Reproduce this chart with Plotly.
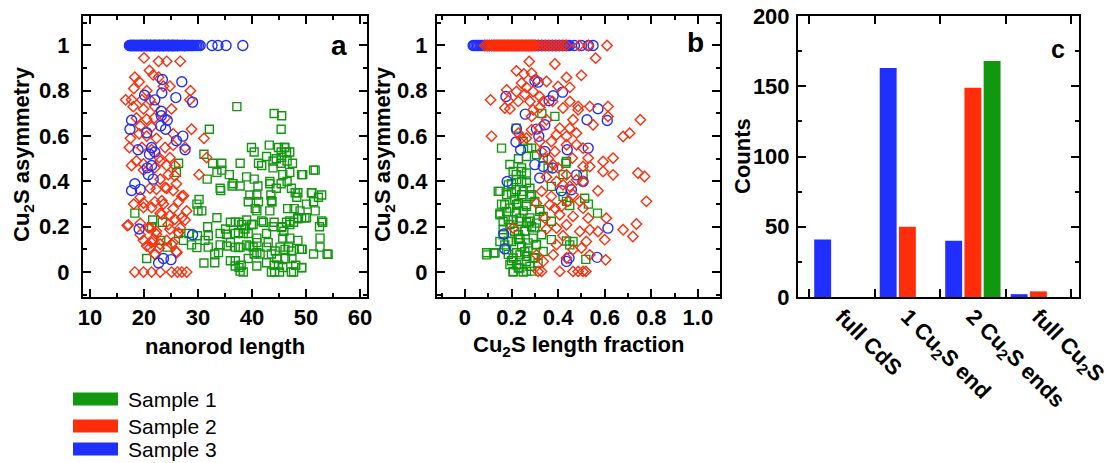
import plotly.graph_objects as go

W, H = 1109, 463

# ---------------- DATA ----------------
# Panel a: nanorod length vs Cu2S asymmetry
A_S1 = [(37.2,0.73),(44.1,0.70),(45.5,0.69),(45.4,0.63),(32.1,0.63),(39.9,0.55),(40.4,0.53),(43.2,0.56),(44.9,0.55),(46.0,0.55),
        (45.4,0.53),(46.4,0.53),(31.1,0.52),(26.0,0.44),(32.7,0.48),(34.4,0.45),(35.8,0.43),(37.8,0.48),(41.2,0.48),(42.7,0.51),
        (44.5,0.50),(43.9,0.46),(45.4,0.48),(46.5,0.49),(47.5,0.48),(45.7,0.43),(47.0,0.44),(49.4,0.43),(51.4,0.45),(31.7,0.41),
        (34.2,0.36),(36.3,0.38),(37.8,0.38),(39.0,0.42),(40.4,0.41),(39.6,0.34),(40.9,0.34),(39.3,0.31),(41.2,0.31),(40.9,0.27),
        (43.3,0.39),(44.5,0.37),(45.4,0.39),(46.5,0.40),(47.3,0.37),(48.5,0.35),(48.3,0.33),(51.1,0.35),(52.3,0.33),(52.9,0.34),
        (51.4,0.31),(50.1,0.30),(51.7,0.27),(43.5,0.34),(43.7,0.31),(43.3,0.27),(46.6,0.28),(47.8,0.28),(47.7,0.22),(47.0,0.21),
        (46.4,0.22),(48.5,0.24),(49.2,0.24),(50.1,0.24),(53.1,0.22),(52.5,0.20),(44.1,0.22),(45.5,0.20),(45.9,0.18),(30.2,0.32),
        (30.7,0.27),(33.5,0.24),(36.0,0.22),(36.9,0.22),(37.6,0.22),(39.0,0.23),(40.2,0.21),(42.1,0.22),(36.9,0.17),(38.4,0.17),
        (39.3,0.17),(40.9,0.15),(42.7,0.17),(35.1,0.19),(34.1,0.17),(31.8,0.20),(28.3,0.17),(29.9,0.16),(31.3,0.14),(31.9,0.11),
        (33.1,0.08),(31.1,0.04),(34.1,0.12),(36.0,0.13),(36.9,0.11),(37.8,0.11),(39.0,0.12),(40.2,0.11),(40.9,0.13),(36.0,0.05),
        (36.9,0.05),(37.6,0.02),(38.4,0.00),(38.0,0.03),(39.3,0.06),(40.4,0.08),(41.5,0.08),(42.7,0.11),(43.6,0.08),(44.1,0.03),
        (44.2,0.00),(45.1,0.00),(44.9,0.03),(44.6,0.06),(45.7,0.02),(46.2,0.06),(47.4,0.06),(47.7,0.00),(48.1,0.03),(48.8,0.10),
        (49.3,0.10),(49.2,0.02),(45.2,0.11),(46.8,0.11),(45.7,0.15),(47.0,0.15),(48.5,0.14),(51.4,0.08),(52.6,0.11),(53.9,0.08),
        (52.6,0.15),(21.4,0.20),(20.5,0.06),(23.4,0.22),(21.6,0.23),(18.3,0.26),(23.1,0.14),(24.3,0.11),(26.4,0.17),(27.3,0.14),
        (26.4,0.48),(46.1,0.55),(45.5,0.506),(47.0,0.53),(41.8,0.47),(43.9,0.49),(33.5,0.44),(34.4,0.48),(51.7,0.45),(49.2,0.43),
        (34.1,0.37),(36.5,0.39),(41.1,0.38),(43.3,0.40),(48.0,0.35),(51.0,0.35),(40.6,0.28),(43.6,0.315),(48.9,0.27),(52.9,0.226),
        (29.8,0.30),(30.0,0.27),(38.1,0.21),(39.9,0.21),(41.8,0.226),(43.9,0.20),(45.5,0.196),(47.0,0.226),(48.5,0.235),(49.8,0.24),
        (35.3,0.167),(37.5,0.174),(38.7,0.19),(31.9,0.16),(28.8,0.12),(29.8,0.108),(33.8,0.086),(35.3,0.115),(37.5,0.108),(39.6,0.115),
        (40.9,0.086),(43.0,0.13),(44.3,0.093),(46.1,0.10),(47.3,0.093),(49.2,0.10),(54.1,0.078),(33.1,0.041),(36.9,0.027),(37.8,0.004),
        (40.9,0.027),(42.7,0.041),(43.6,0.0),(47.3,0.0),(49.2,0.019)]

A_S2 = [(20.0,0.945),(21.0,0.89),(22.7,0.93),(24.2,0.93),(26.7,0.93),(21.7,0.87),(18.3,0.86),(19.1,0.84),(18.1,0.81),(16.6,0.76),
        (17.7,0.76),(19.6,0.76),(20.5,0.80),(22.7,0.86),(23.6,0.82),(24.8,0.82),(28.6,0.80),(28.5,0.76),(21.1,0.76),(18.0,0.73),
        (19.9,0.72),(22.0,0.73),(25.1,0.72),(18.6,0.68),(20.5,0.675),(21.9,0.68),(23.9,0.68),(19.3,0.645),(21.4,0.64),(17.5,0.59),
        (19.1,0.61),(20.5,0.60),(22.3,0.59),(25.4,0.61),(28.8,0.63),(31.1,0.59),(17.3,0.55),(19.6,0.55),(21.4,0.54),(23.9,0.55),
        (25.4,0.56),(27.6,0.55),(22.8,0.505),(24.8,0.505),(31.6,0.505),(30.2,0.43),(18.6,0.49),(19.9,0.45),(22.0,0.46),(24.2,0.47),
        (25.7,0.47),(24.5,0.43),(23.0,0.41),(26.0,0.39),(21.1,0.37),(22.3,0.365),(24.2,0.37),(25.4,0.36),(27.0,0.335),(19.3,0.33),
        (18.1,0.30),(19.9,0.305),(22.0,0.31),(23.6,0.30),(25.4,0.28),(26.4,0.31),(23.0,0.26),(24.8,0.25),(27.0,0.24),(27.9,0.27),
        (16.9,0.205),(19.3,0.215),(21.1,0.195),(22.3,0.18),(24.5,0.21),(26.7,0.195),(27.6,0.23),(19.9,0.14),(21.4,0.13),(22.8,0.105),
        (24.2,0.14),(25.4,0.13),(26.0,0.09),(20.5,0.115),(22.0,0.08),(19.3,0.165),(17.7,0.47),(19.9,0.477),(23.0,0.49),(25.7,0.425),
        (23.9,0.373),(27.3,0.337),(23.3,0.315),(19.9,0.285),(21.4,0.285),(23.3,0.255),(25.7,0.233),(17.1,0.208),(20.8,0.196),(22.3,0.167),
        (24.8,0.189),(26.4,0.174),(21.7,0.145),(23.0,0.123),(25.1,0.123),(26.1,0.086),(21.1,0.108),(22.0,0.078),
        (18.3,0.0),(19.9,0.0),(21.4,0.0),(23.0,0.0),(25.1,0.0),(26.2,0.0),(27.0,0.0),(27.9,0.0)]
A_S2_ONE_END = [19.5, 20.5, 21.2, 22.0, 22.8, 23.6, 24.5, 25.3, 26.2, 27.5]

A_S3 = [(23.4,0.85),(27.0,0.84),(20.1,0.78),(23.3,0.79),(22.0,0.76),(25.9,0.77),(29.0,0.75),(23.2,0.71),(23.2,0.69),(17.7,0.67),
        (24.3,0.67),(17.4,0.63),(23.1,0.645),(24.0,0.63),(20.5,0.615),(27.2,0.60),(26.0,0.58),(18.9,0.54),(21.4,0.55),(22.0,0.53),
        (27.6,0.54),(21.4,0.47),(20.8,0.43),(21.7,0.41),(18.3,0.39),(17.7,0.36),(19.3,0.365),(19.1,0.19),(29.0,0.165),(23.6,0.06),
        (25.0,0.055),(22.7,0.04),(20.6,0.46),(21.0,0.52)]
A_S3_ONE_END = [17.3,17.4,17.5,17.6,17.7,17.8,17.9,18.0,18.1,18.2,18.3,18.4,18.5,18.6,18.7,18.8,18.9,19.0,19.1,19.2,
                19.3,19.4,19.5,19.6,19.7,19.8,19.9,20.0,20.1,20.2,20.3,20.4,20.5,20.6,20.7,20.8,20.9,21.0,21.1,21.2,
                21.3,21.4,21.5,21.6,21.7,21.8,21.9,22.0,22.1,22.2,22.3,22.4,22.5,22.6,22.7,22.8,22.9,23.0,23.1,23.2,
                23.3,23.4,23.5,23.6,23.7,23.8,23.9,24.0,24.1,24.2,24.3,24.4,24.5,24.6,24.7,24.8,24.9,25.0,25.1,25.2,
                25.3,25.4,25.5,25.6,25.7,25.8,25.9,26.0,26.2,26.3,26.5,26.6,26.8,26.9,27.1,27.2,27.4,27.5,27.7,27.9,
                28.0,28.2,28.4,28.6,28.8,29.0,29.2,29.5,29.8,30.1,30.4,32.6,33.7,35.2,38.3]

# Panel b: Cu2S length fraction vs Cu2S asymmetry
B_S1 = [(0.33,0.70),(0.22,0.635),(0.157,0.547),(0.27,0.547),(0.23,0.50),(0.243,0.46),(0.264,0.437),(0.22,0.43),(0.186,0.385),(0.143,0.356),
        (0.179,0.341),(0.22,0.363),(0.25,0.356),(0.279,0.334),(0.15,0.26),(0.193,0.282),(0.229,0.304),(0.264,0.297),(0.30,0.312),(0.321,0.275),
        (0.164,0.224),(0.207,0.231),(0.236,0.238),(0.279,0.224),(0.307,0.216),(0.336,0.246),(0.371,0.224),(0.421,0.334),(0.436,0.312),(0.45,0.294),
        (0.371,0.378),(0.357,0.459),(0.436,0.488),(0.421,0.43),(0.25,0.576),(0.286,0.547),(0.307,0.518),(0.336,0.503),(0.264,0.51),(0.093,0.076),
        (0.124,0.084),(0.179,0.099),(0.20,0.135),(0.164,0.165),(0.229,0.165),(0.257,0.18),(0.293,0.15),(0.329,0.165),(0.371,0.143),(0.464,0.135),
        (0.207,0.062),(0.236,0.076),(0.264,0.047),(0.293,0.062),(0.207,0.003),(0.236,0.018),(0.264,0.003),(0.221,0.032),(0.243,0.113),(0.271,0.106),
        (0.307,0.12),(0.336,0.091),(0.15,0.135),(0.569,0.26),(0.514,0.326),(0.53,0.30),(0.519,0.056),(0.45,0.12),(0.436,0.137),(0.433,0.48),
        (0.507,0.43),(0.386,0.687),(0.193,0.475),(0.243,0.444),(0.222,0.408),(0.264,0.394),(0.15,0.356),(0.20,0.349),(0.243,0.341),(0.286,0.341),
        (0.171,0.297),(0.222,0.297),(0.264,0.29),(0.321,0.268),(0.15,0.253),(0.186,0.231),(0.236,0.224),(0.279,0.239),(0.164,0.187),(0.214,0.18),
        (0.257,0.18),(0.30,0.195),(0.186,0.136),(0.229,0.144),(0.271,0.129),(0.307,0.122),(0.093,0.085),(0.129,0.085),(0.186,0.078),(0.222,0.085),
        (0.264,0.07),(0.30,0.063),(0.193,0.033),(0.229,0.018),(0.279,0.026),(0.207,0.0),(0.25,0.0),(0.286,0.004),(0.179,0.268),(0.207,0.444),
        (0.20,0.39),(0.214,0.32),(0.25,0.27),(0.236,0.15),(0.20,0.05),(0.257,0.09),(0.171,0.12),(0.314,0.04),(0.286,0.20),(0.221,0.26),
        (0.243,0.40),(0.193,0.21),(0.279,0.37),(0.157,0.30),(0.264,0.22)]

B_S2 = [(0.561,0.944),(0.276,0.929),(0.386,0.918),(0.221,0.888),(0.253,0.874),(0.286,0.878),(0.436,0.859),(0.50,0.868),(0.307,0.849),(0.35,0.841),
        (0.243,0.834),(0.264,0.815),(0.40,0.819),(0.45,0.815),(0.179,0.804),(0.221,0.797),(0.257,0.785),(0.293,0.797),(0.321,0.775),(0.11,0.76),
        (0.186,0.756),(0.229,0.753),(0.279,0.753),(0.336,0.753),(0.376,0.753),(0.45,0.753),(0.171,0.724),(0.193,0.72),(0.293,0.716),(0.321,0.726),
        (0.421,0.724),(0.486,0.731),(0.486,0.716),(0.536,0.731),(0.614,0.731),(0.286,0.687),(0.35,0.672),(0.464,0.672),(0.55,0.65),(0.614,0.687),
        (0.753,0.672),(0.679,0.598),(0.707,0.613),(0.229,0.613),(0.286,0.628),(0.321,0.635),(0.243,0.591),(0.264,0.591),(0.114,0.599),(0.393,0.606),
        (0.436,0.599),(0.479,0.613),(0.407,0.635),(0.45,0.635),(0.321,0.576),(0.371,0.576),(0.436,0.562),(0.479,0.562),(0.507,0.547),(0.329,0.532),
        (0.386,0.532),(0.461,0.503),(0.529,0.503),(0.593,0.488),(0.636,0.503),(0.507,0.466),(0.536,0.466),(0.593,0.444),(0.636,0.429),(0.743,0.437),
        (0.771,0.422),(0.379,0.474),(0.436,0.429),(0.393,0.40),(0.421,0.385),(0.45,0.378),(0.479,0.407),(0.507,0.40),(0.571,0.359),(0.464,0.341),
        (0.443,0.312),(0.493,0.312),(0.779,0.312),(0.329,0.356),(0.307,0.304),(0.364,0.297),(0.386,0.282),(0.407,0.253),(0.464,0.246),(0.507,0.282),
        (0.529,0.238),(0.607,0.238),(0.343,0.238),(0.393,0.194),(0.436,0.209),(0.493,0.179),(0.536,0.187),(0.571,0.179),(0.679,0.187),(0.736,0.212),
        (0.721,0.157),(0.60,0.143),(0.521,0.135),(0.50,0.106),(0.464,0.099),(0.393,0.121),(0.379,0.076),(0.436,0.062),(0.536,0.076),(0.604,0.054),
        (0.207,0.194),(0.307,0.076),(0.336,0.047),(0.371,0.334),(0.357,0.50),(0.40,0.46),(0.35,0.42),(0.414,0.29),(0.35,0.19),(0.421,0.16),
        (0.314,0.003),(0.329,0.003),(0.407,0.003),(0.464,0.003),(0.486,0.003),(0.507,0.003),(0.519,0.003)]
B_S2_ONE_END = [0.085,0.095,0.105,0.115,0.122,0.128,0.134,0.140,0.146,0.152,0.158,0.164,0.170,0.176,0.182,0.188,0.194,0.200,
                0.206,0.212,0.218,0.224,0.230,0.236,0.242,0.248,0.254,0.260,0.266,0.272,0.278,0.284,0.290,0.296,0.302,0.315,
                0.330,0.345,0.360,0.375,0.390,0.405,0.420,0.435,0.490,0.530,0.610]

B_S3 = [(0.30,0.844),(0.314,0.838),(0.176,0.775),(0.419,0.794),(0.379,0.778),(0.361,0.756),(0.259,0.697),(0.571,0.721),(0.611,0.669),(0.524,0.672),
        (0.221,0.632),(0.307,0.631),(0.343,0.65),(0.219,0.574),(0.317,0.599),(0.239,0.54),(0.343,0.532),(0.439,0.54),(0.529,0.547),(0.30,0.474),
        (0.336,0.466),(0.376,0.459),(0.479,0.429),(0.507,0.40),(0.414,0.359),(0.457,0.363),(0.321,0.415),(0.181,0.40),(0.614,0.194),(0.167,0.168),
        (0.171,0.103),(0.436,0.047),(0.447,0.062),(0.567,0.065)]
B_S3_ONE_END = [0.035,0.041,0.047,0.053,0.059,0.065,0.071,0.077,0.083,0.089,0.095,0.101,0.107,0.113,0.119,0.125,0.131,0.137,
                0.143,0.149,0.155,0.161,0.167,0.173,0.179,0.185,0.191,0.197,0.203,0.209,0.215,0.221,0.227,0.233,0.239,0.245,
                0.251,0.257,0.263,0.269,0.275,0.281,0.287,0.293,0.299,0.305,0.311,0.317,0.323,0.329,0.335,0.341,0.347,0.353,
                0.359,0.365,0.371,0.377,0.383,0.389,0.395,0.401,0.407,0.413,0.419,0.425,0.431,0.437,0.443,0.449,
                0.470,0.500,0.530,0.550]

# Panel c: counts per category
CATEGORIES = ["full CdS", "1 Cu<sub>2</sub>S end", "2 Cu<sub>2</sub>S ends", "full Cu<sub>2</sub>S"]
COUNTS_S3 = [41, 163, 40, 2]
COUNTS_S2 = [0, 50, 149, 4]
COUNTS_S1 = [0, 0, 168, 0]

SAMPLE_NAMES = ["Sample 1", "Sample 2", "Sample 3"]

# ---------------- STYLE ----------------
GREEN = "#12980f"
RED = "#ff2d0a"
BLUE = "#1f2fff"
FONT = "Liberation Sans, Arial, sans-serif"


def px_x(p):
    return p / W


def px_y(p):
    return 1 - p / H


def unzip(pairs):
    return [p[0] for p in pairs], [p[1] for p in pairs]


fig = go.Figure()


def scatter(pairs, color, symbol, size, xa, ya, name):
    xs, ys = unzip(pairs)
    fig.add_trace(go.Scatter(
        x=xs, y=ys, mode="markers", name=name, showlegend=False,
        marker=dict(symbol=symbol, size=size, color=color, line=dict(width=1.4)),
        xaxis=xa, yaxis=ya))


# Panel a
scatter(A_S1, GREEN, "square-open", 8, "x", "y", "Sample 1")
scatter(A_S2 + [(v, 1.0) for v in A_S2_ONE_END], RED, "diamond-open", 8, "x", "y", "Sample 2")
scatter(A_S3 + [(v, 1.0) for v in A_S3_ONE_END], BLUE, "circle-open", 10, "x", "y", "Sample 3")

# Panel b
scatter(B_S1, GREEN, "square-open", 8, "x2", "y2", "Sample 1")
scatter(B_S3 + [(v, 1.0) for v in B_S3_ONE_END], BLUE, "circle-open", 10, "x2", "y2", "Sample 3")
scatter(B_S2 + [(v, 1.0) for v in B_S2_ONE_END], RED, "diamond-open", 8, "x2", "y2", "Sample 2")

# Panel c bars
for vals, color, name in [(COUNTS_S3, BLUE, "Sample 3"), (COUNTS_S2, RED, "Sample 2"), (COUNTS_S1, GREEN, "Sample 1")]:
    fig.add_trace(go.Bar(x=CATEGORIES, y=vals, marker=dict(color=color, line=dict(width=0)),
                         name=name, showlegend=False, xaxis="x3", yaxis="y3"))

tickfont = dict(family=FONT, size=22, color="black", weight="bold")


def axis(domain, rng, anchor, **kw):
    d = dict(domain=domain, range=rng, anchor=anchor, showline=True, linecolor="black", linewidth=2,
             mirror="allticks", ticks="inside", ticklen=8, tickwidth=2, tickcolor="black",
             showgrid=False, zeroline=False, tickfont=tickfont, automargin=False)
    d.update(kw)
    return d


minor = lambda dt: dict(ticks="inside", ticklen=4, tickwidth=1.5, tickcolor="black", dtick=dt, showgrid=False)

ydom = [px_y(297), px_y(16)]
fig.update_layout(
    width=W, height=H, margin=dict(l=0, r=0, t=0, b=0),
    paper_bgcolor="white", plot_bgcolor="white", template="none", showlegend=False,
    barmode="group", bargap=0.12, bargroupgap=0.12,
    xaxis=axis([px_x(83), px_x(367)], [8.7, 61.3], "y", tickvals=[10, 20, 30, 40, 50, 60],
               minor=minor(5), ticklabelstandoff=0),
    yaxis=axis(ydom, [-0.11, 1.13], "x", tickvals=[0, 0.2, 0.4, 0.6, 0.8, 1],
               ticktext=["0", "0.2", "0.4", "0.6", "0.8", "1"], minor=minor(0.1), ticklabelstandoff=7),
    xaxis2=axis([px_x(437), px_x(720)], [-0.12, 1.095], "y2", tickvals=[0, 0.2, 0.4, 0.6, 0.8, 1.0],
                ticktext=["0", "0.2", "0.4", "0.6", "0.8", "1.0"], minor=minor(0.1), ticklabelstandoff=0),
    yaxis2=axis(ydom, [-0.11, 1.13], "x2", tickvals=[0, 0.2, 0.4, 0.6, 0.8, 1],
                ticktext=["0", "0.2", "0.4", "0.6", "0.8", "1"], minor=minor(0.1), ticklabelstandoff=3),
    xaxis3=axis([px_x(798), px_x(1079)], [-0.67, 3.62], "y3", type="category", tickson="boundaries",
                tickangle=45, ticklabelstandoff=-4),
    yaxis3=axis(ydom, [0, 200], "x3", tickvals=[0, 50, 100, 150, 200], minor=minor(25), ticklabelstandoff=2),
)

titlefont = dict(family=FONT, size=22, color="black", weight="bold")
ann = []


def text(t, x, y, font, angle=0, xanchor="center"):
    ann.append(dict(text=t, x=px_x(x), y=px_y(y), xref="paper", yref="paper", showarrow=False,
                    font=font, textangle=angle, xanchor=xanchor, yanchor="middle", borderpad=0))


text("nanorod length", 225, 346, titlefont)
text("Cu<sub>2</sub>S length fraction", 578, 346, titlefont)
text("Cu<sub>2</sub>S asymmetry", 23, 154, titlefont, -90)
text("Cu<sub>2</sub>S asymmetry", 384, 154, titlefont, -90)
text("Counts", 742, 156, titlefont, -90)
text("a", 339, 45, dict(family=FONT, size=28, color="black", weight="bold"))
text("b", 695, 43, dict(family=FONT, size=28, color="black", weight="bold"))
text("c", 1058, 49, dict(family=FONT, size=25, color="black", weight="bold"))

# Legend (colour swatches with labels)
shapes = []
legend_rows = [(SAMPLE_NAMES[0], GREEN, 399), (SAMPLE_NAMES[1], RED, 426), (SAMPLE_NAMES[2], BLUE, 449)]
for name, color, yc in legend_rows:
    shapes.append(dict(type="rect", xref="paper", yref="paper", x0=px_x(73), x1=px_x(118),
                       y0=px_y(yc + 6.5), y1=px_y(yc - 6.5), fillcolor=color, line=dict(width=0)))
    text(name, 127, yc, dict(family=FONT, size=21, color="black"), xanchor="left")

fig.update_layout(annotations=ann, shapes=shapes)
fig.write_html("out.html", config={"displayModeBar": False},
               post_script="document.body.style.margin='0';document.body.style.overflow='hidden';")
